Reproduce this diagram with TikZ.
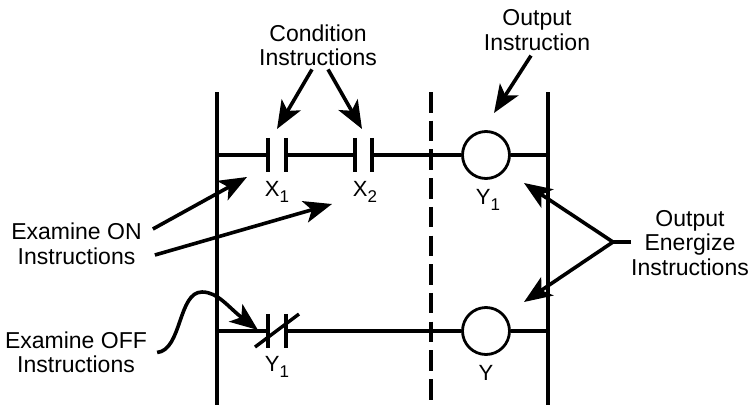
\documentclass[tikz,border=0pt]{standalone}
\usepackage{fontspec}
\setmainfont{Liberation Sans}
\usepackage{tikz}
\usetikzlibrary{arrows.meta}
\newcommand{\subnum}[1]{\raisebox{-6pt}{\fontsize{17}{17}\selectfont #1}}
\tikzset{
  wire/.style={line width=3.2pt},
  rail/.style={line width=3.4pt},
  plate/.style={line width=3.4pt},
  pointer/.style={line width=3.6pt, -{Stealth[length=28pt, width=22pt, inset=7pt]}},
  coil/.style={draw, circle, line width=2.8pt, minimum size=47pt, inner sep=0pt},
  lbl/.style={inner sep=0pt, align=center, font=\fontsize{23}{24.5}\selectfont},
  tag/.style={inner sep=0pt, font=\fontsize{22}{24}\selectfont},
  stub/.style={inner sep=0pt, minimum width=0pt, minimum height=34pt}
}
\begin{document}
\begin{tikzpicture}[x=1pt, y=-1pt]
\useasboundingbox (0,0) rectangle (748,405);
% labels
\node[lbl] (cond) at (318,45.5) {Condition\\Instructions};
\node[lbl] (outins) at (537,30) {Output\\Instruction};
\node[lbl] (examon) at (76.5,244) {Examine ON\\Instructions};
\node[lbl] (examoff) at (76,352.5) {Examine OFF\\Instructions};
\node[lbl] (energize) at (690,243) {Output\\Energize\\Instructions};
% rails
\coordinate (railLtop) at (217,92);
\coordinate (railLbot) at (217,405);
\coordinate (railRtop) at (548,92);
\coordinate (railRbot) at (548,405);
\coordinate (divtop) at (431,92);
\coordinate (divbot) at (431,400);
\draw[rail] (railLtop) -- (railLbot);
\draw[rail] (railRtop) -- (railRbot);
\draw[rail, dash pattern=on 20.5pt off 8.2pt] (divtop) -- (divbot);
% top rung
\coordinate (rungAL) at (217,155);
\coordinate (rungAR) at (548,155);
\node[coil] (coilA) at (486,155) {};
\node[stub] (x1a) at (268,155) {};
\node[stub] (x1b) at (286,155) {};
\node[stub] (x2a) at (355,155) {};
\node[stub] (x2b) at (372,155) {};
\draw[plate] (x1a.north) -- (x1a.south);
\draw[plate] (x1b.north) -- (x1b.south);
\draw[plate] (x2a.north) -- (x2a.south);
\draw[plate] (x2b.north) -- (x2b.south);
\draw[wire] (rungAL) -- (x1a);
\draw[wire] (x1b) -- (x2a);
\draw[wire] (x2b) -- (coilA);
\draw[wire] (coilA) -- (rungAR);
\node[tag] (tagx1) at (277,192) {X\subnum{1}};
\node[tag] (tagx2) at (365,192) {X\subnum{2}};
\node[tag] (tagy1) at (488,200) {Y\subnum{1}};
% bottom rung
\coordinate (rungBL) at (217,331);
\coordinate (rungBR) at (548,331);
\node[coil] (coilB) at (486,331) {};
\node[stub] (y1a) at (268,331) {};
\node[stub] (y1b) at (286,331) {};
\coordinate (slashA) at (255,347);
\coordinate (slashB) at (299,314);
\draw[plate] (y1a.north) -- (y1a.south);
\draw[plate] (y1b.north) -- (y1b.south);
\draw[plate] (slashA) -- (slashB);
\draw[wire] (rungBL) -- (y1a);
\draw[wire] (y1b) -- (coilB);
\draw[wire] (coilB) -- (rungBR);
\node[tag] (tagy1b) at (277,367) {Y\subnum{1}};
\node[tag] (tagy) at (486,373) {Y};
% pointers
\coordinate (tipx1) at (277,129);
\coordinate (tipx2) at (362,129);
\coordinate (tipcoil) at (494,113);
\coordinate (tiponA) at (247,177);
\coordinate (tiponB) at (332,204);
\coordinate (tipoff) at (258,330);
\coordinate (tipenA) at (524,183);
\coordinate (tipenB) at (524,302);
\coordinate (fork) at (613,242);
\draw[pointer] ([shift={(-6,3)}]cond.south) -- (tipx1);
\draw[pointer] ([shift={(10,3)}]cond.south) -- (tipx2);
\draw[pointer] ([shift={(-6,5)}]outins.south) -- (tipcoil);
\draw[pointer] ([shift={(11,-15)}]examon.east) -- (tiponA);
\draw[pointer] ([shift={(13,11)}]examon.east) -- (tiponB);
\draw[pointer] ([xshift=10pt]examoff.east) .. controls (182,350) and (178,292) .. (202,292) .. controls (218,292) and (228,307) .. (tipoff);
\draw[wire] (energize.west |- fork) -- (fork);
\draw[pointer] (fork) -- (tipenA);
\draw[pointer] (fork) -- (tipenB);
\end{tikzpicture}
\end{document}
